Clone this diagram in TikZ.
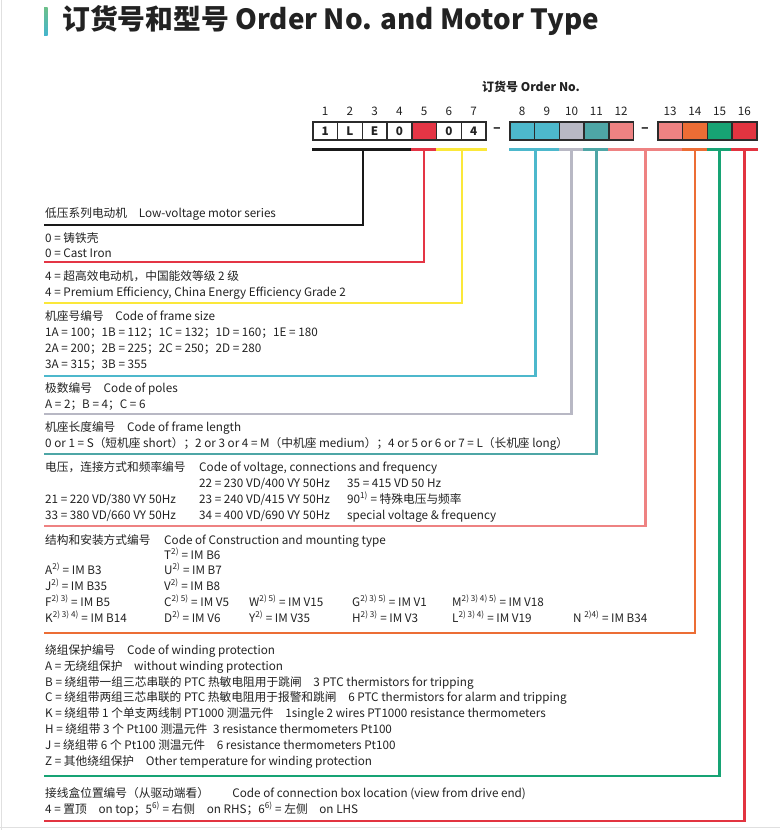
\documentclass[tikz,border=0pt]{standalone}
\usepackage{fontspec}
\setmainfont{Noto Sans CJK SC}
\usetikzlibrary{calc}
\definecolor{txtc}{HTML}{222222}
\definecolor{boxline}{HTML}{2B2B2B}
\definecolor{cRed}{HTML}{E43545}
\definecolor{cYel}{HTML}{FBE83A}
\definecolor{cCyan}{HTML}{4DB8CC}
\definecolor{cGray}{HTML}{B8B8C4}
\definecolor{cTeal}{HTML}{4EA6A6}
\definecolor{cSal}{HTML}{EE8282}
\definecolor{cOra}{HTML}{EC6D35}
\definecolor{cGrn}{HTML}{17A374}
\definecolor{cRed2}{HTML}{E23440}
\definecolor{tGreen}{HTML}{6CC08A}
\definecolor{tCyan}{HTML}{45B5CC}
\newcommand{\bodyfs}{\fontsize{11.7}{14}\selectfont}
\newcommand{\supx}[1]{\textsuperscript{#1}}
\tikzset{
  txt/.style={anchor=base west, inner sep=0pt, font=\bodyfs, text=txtc},
  digit/.style={inner sep=0pt, font=\bodyfs, text=txtc},
  obox/.style={draw=boxline, line width=1.6pt, minimum width=24.75pt, minimum height=18pt, inner sep=0pt, anchor=north west, font=\bodyfs\bfseries, text=txtc},
  bar/.style={line width=2.6pt},
  conn/.style={line width=2.4pt, line join=miter}
}
\begin{document}
\begin{tikzpicture}[x=1pt,y=-1pt]
\useasboundingbox (0,0) rectangle (780,830);
\fill[white] (0,0) rectangle (780,830);
\draw[black!12, line width=1pt] (1.5,0) -- (1.5,830);
\draw[black!12, line width=1pt] (0,827) -- (780,827);

% title
\shade[top color=tGreen, bottom color=tCyan] (44,7) rectangle (47.5,35);
\node[anchor=west, inner sep=0pt, font=\fontsize{27.8}{32}\selectfont\bfseries, text=txtc] (title) at (62,21) {订货号和型号 Order No. and Motor Type};

% order no header
\node[inner sep=0pt, font=\fontsize{12}{14}\selectfont\bfseries, text=txtc] (ordh) at (531,87) {订货号 Order No.};

% boxes
\node[obox] (b1) at (312,121) {1};
\node[obox] (b2) at (336.75,121) {L};
\node[obox] (b3) at (361.5,121) {E};
\node[obox] (b4) at (386.25,121) {0};
\node[obox, fill=cRed] (b5) at (411,121) {};
\node[obox] (b6) at (435.75,121) {0};
\node[obox] (b7) at (460.5,121) {4};
\node[obox, fill=cCyan] (b8) at (509,121) {};
\node[obox, fill=cCyan] (b9) at (533.75,121) {};
\node[obox, fill=cGray] (b10) at (558.5,121) {};
\node[obox, fill=cTeal] (b11) at (583.25,121) {};
\node[obox, fill=cSal] (b12) at (608,121) {};
\node[obox, fill=cSal] (b13) at (657,121) {};
\node[obox, fill=cOra] (b14) at (681.75,121) {};
\node[obox, fill=cGrn] (b15) at (706.5,121) {};
\node[obox, fill=cRed2] (b16) at (731.25,121) {};
\node[digit, font=\fontsize{14}{14}\selectfont\bfseries] (dash1) at (497,130) {–};
\node[digit, font=\fontsize{14}{14}\selectfont\bfseries] (dash2) at (645,130) {–};

% digit labels
\foreach \i in {1,...,16} {
  \node[digit] (d\i) at ([yshift=10pt]b\i.north) {\i};
}

% bars under boxes
\draw[bar, black!90] ([yshift=-9pt]b1.south west) -- ([yshift=-9pt]b4.south east);
\draw[bar, cRed] ([yshift=-9pt]b5.south west) -- ([yshift=-9pt]b5.south east);
\draw[bar, cYel] ([yshift=-9pt]b6.south west) -- ([yshift=-9pt]b7.south east);
\draw[bar, cCyan] ([yshift=-9pt]b8.south west) -- ([yshift=-9pt]b9.south east);
\draw[bar, cGray] ([yshift=-9pt]b10.south west) -- ([yshift=-9pt]b10.south east);
\draw[bar, cTeal] ([yshift=-9pt]b11.south west) -- ([yshift=-9pt]b11.south east);
\draw[bar, cSal] ([yshift=-9pt]b12.south west) -- ([yshift=-9pt]b13.south east);
\draw[bar, cOra] ([yshift=-9pt]b14.south west) -- ([yshift=-9pt]b14.south east);
\draw[bar, cGrn] ([yshift=-9pt]b15.south west) -- ([yshift=-9pt]b15.south east);
\draw[bar, cRed2] ([yshift=-9pt]b16.south west) -- ([yshift=-9pt]b16.south east);

% connector ends
\coordinate (e1) at (44,225);
\coordinate (e2) at (44,262);
\coordinate (e3) at (44,303);
\coordinate (e4) at (44,376);
\coordinate (e5) at (44,414);
\coordinate (e6) at (44,454);
\coordinate (e7) at (44,526);
\coordinate (e8) at (44,633);
\coordinate (e9) at (44,776);
\coordinate (e10) at (44,821);

\draw[conn, black!90] ([yshift=-9pt]b2.south east) |- (e1);
\draw[conn, cRed] ([yshift=-9pt]b5.south) |- (e2);
\draw[conn, cYel] ([yshift=-9pt]b6.south east) |- (e3);
\draw[conn, cCyan] ([yshift=-9pt]b8.south east) |- (e4);
\draw[conn, cGray] ([yshift=-9pt]b10.south) |- (e5);
\draw[conn, cTeal] ([yshift=-9pt]b11.south) |- (e6);
\draw[conn, cSal] ($(b12.south east)!0.5!(b13.south west)+(0,9)$) |- (e7);
\draw[conn, cOra] ([yshift=-9pt]b14.south) |- (e8);
\draw[conn, cGrn] ([yshift=-9pt]b15.south) |- (e9);
\draw[conn, cRed2] ([yshift=-9pt]b16.south) |- (e10);

% section 1
\node[txt] (s1) at (45,217) {低压系列电动机\quad Low-voltage motor series};
\node[txt] (s2a) at (45,242) {0 = 铸铁壳};
\node[txt] (s2b) at (45,257) {0 = Cast Iron};
\node[txt] (s3a) at (45,280) {4 = 超高效电动机，中国能效等级 2 级};
\node[txt] (s3b) at (45,296) {4 = Premium Efficiency, China Energy Efficiency Grade 2};
\node[txt] (s4a) at (45,320) {机座号编号\quad Code of frame size};
\node[txt] (s4b) at (45,336) {1A = 100；1B = 112；1C = 132；1D = 160；1E = 180};
\node[txt] (s4c) at (45,352) {2A = 200；2B = 225；2C = 250；2D = 280};
\node[txt] (s4d) at (45,368) {3A = 315；3B = 355};
\node[txt] (s5a) at (45,392) {极数编号\quad Code of poles};
\node[txt] (s5b) at (45,408) {A = 2；B = 4；C = 6};
\node[txt] (s6a) at (45,431) {机座长度编号\quad Code of frame length};
\node[txt] (s6b) at (45,447) {0 or 1 = S（短机座 short）；2 or 3 or 4 = M（中机座 medium）；4 or 5 or 6 or 7 = L（长机座 long）};

% voltage
\node[txt] (s7a) at (45,471) {电压，连接方式和频率编号};
\node[txt] (s7b) at (199,471) {Code of voltage, connections and frequency};
\node[txt] (s7c) at (199,487) {22 = 230 VD/400 VY 50Hz};
\node[txt] (s7d) at (347,487) {35 = 415 VD 50 Hz};
\node[txt] (s7e) at (45,503) {21 = 220 VD/380 VY 50Hz};
\node[txt] (s7f) at (199,503) {23 = 240 VD/415 VY 50Hz};
\node[txt] (s7g) at (347,503) {90\supx{1)} = 特殊电压与频率};
\node[txt] (s7h) at (45,519) {33 = 380 VD/660 VY 50Hz};
\node[txt] (s7i) at (199,519) {34 = 400 VD/690 VY 50Hz};
\node[txt] (s7j) at (347,519) {special voltage \& frequency};

% construction
\node[txt] (s8a) at (45,544) {结构和安装方式编号};
\node[txt] (s8b) at (164,544) {Code of Construction and mounting type};
\node[txt] (s8c) at (164,559) {T\supx{2)} = IM B6};
\node[txt] (s8d) at (45,574) {A\supx{2)} = IM B3};
\node[txt] (s8e) at (164,574) {U\supx{2)} = IM B7};
\node[txt] (s8f) at (45,590) {J\supx{2)} = IM B35};
\node[txt] (s8g) at (164,590) {V\supx{2)} = IM B8};
\node[txt] (s8h) at (45,606) {F\supx{2) 3)} = IM B5};
\node[txt] (s8i) at (164,606) {C\supx{2) 5)} = IM V5};
\node[txt] (s8j) at (249,606) {W\supx{2) 5)} = IM V15};
\node[txt] (s8k) at (352,606) {G\supx{2) 3) 5)} = IM V1};
\node[txt] (s8l) at (452,606) {M\supx{2) 3) 4) 5)} = IM V18};
\node[txt] (s8m) at (45,622) {K\supx{2) 3) 4)} = IM B14};
\node[txt] (s8n) at (164,622) {D\supx{2)} = IM V6};
\node[txt] (s8o) at (249,622) {Y\supx{2)} = IM V35};
\node[txt] (s8p) at (352,622) {H\supx{2) 3)} = IM V3};
\node[txt] (s8q) at (452,622) {L\supx{2) 3) 4)} = IM V19};
\node[txt] (s8r) at (573,622) {N \supx{2)4)} = IM B34};

% winding
\node[txt] (s9a) at (45,654) {绕组保护编号\quad Code of winding protection};
\node[txt] (s9b) at (45,670) {A = 无绕组保护\quad without winding protection};
\node[txt] (s9c) at (45,686) {B = 绕组带一组三芯串联的 PTC 热敏电阻用于跳闸\quad 3 PTC thermistors for tripping};
\node[txt] (s9d) at (45,701) {C = 绕组带两组三芯串联的 PTC 热敏电阻用于报警和跳闸\quad 6 PTC thermistors for alarm and tripping};
\node[txt] (s9e) at (45,717) {K = 绕组带 1 个单支两线制 PT1000 测温元件\quad 1single 2 wires PT1000 resistance thermometers};
\node[txt] (s9f) at (45,733) {H = 绕组带 3 个 Pt100 测温元件\enspace 3 resistance thermometers Pt100};
\node[txt] (s9g) at (45,749) {J = 绕组带 6 个 Pt100 测温元件\quad 6 resistance thermometers Pt100};
\node[txt] (s9h) at (45,765) {Z = 其他绕组保护\quad Other temperature for winding protection};

% connection box
\node[txt] (s10a) at (45,797) {接线盒位置编号（从驱动端看）\qquad Code of connection box location (view from drive end)};
\node[txt] (s10b) at (45,813) {4 = 置顶\quad on top；5\supx{6)} = 右侧\quad on RHS；6\supx{6)} = 左侧\quad on LHS};
\end{tikzpicture}
\end{document}
